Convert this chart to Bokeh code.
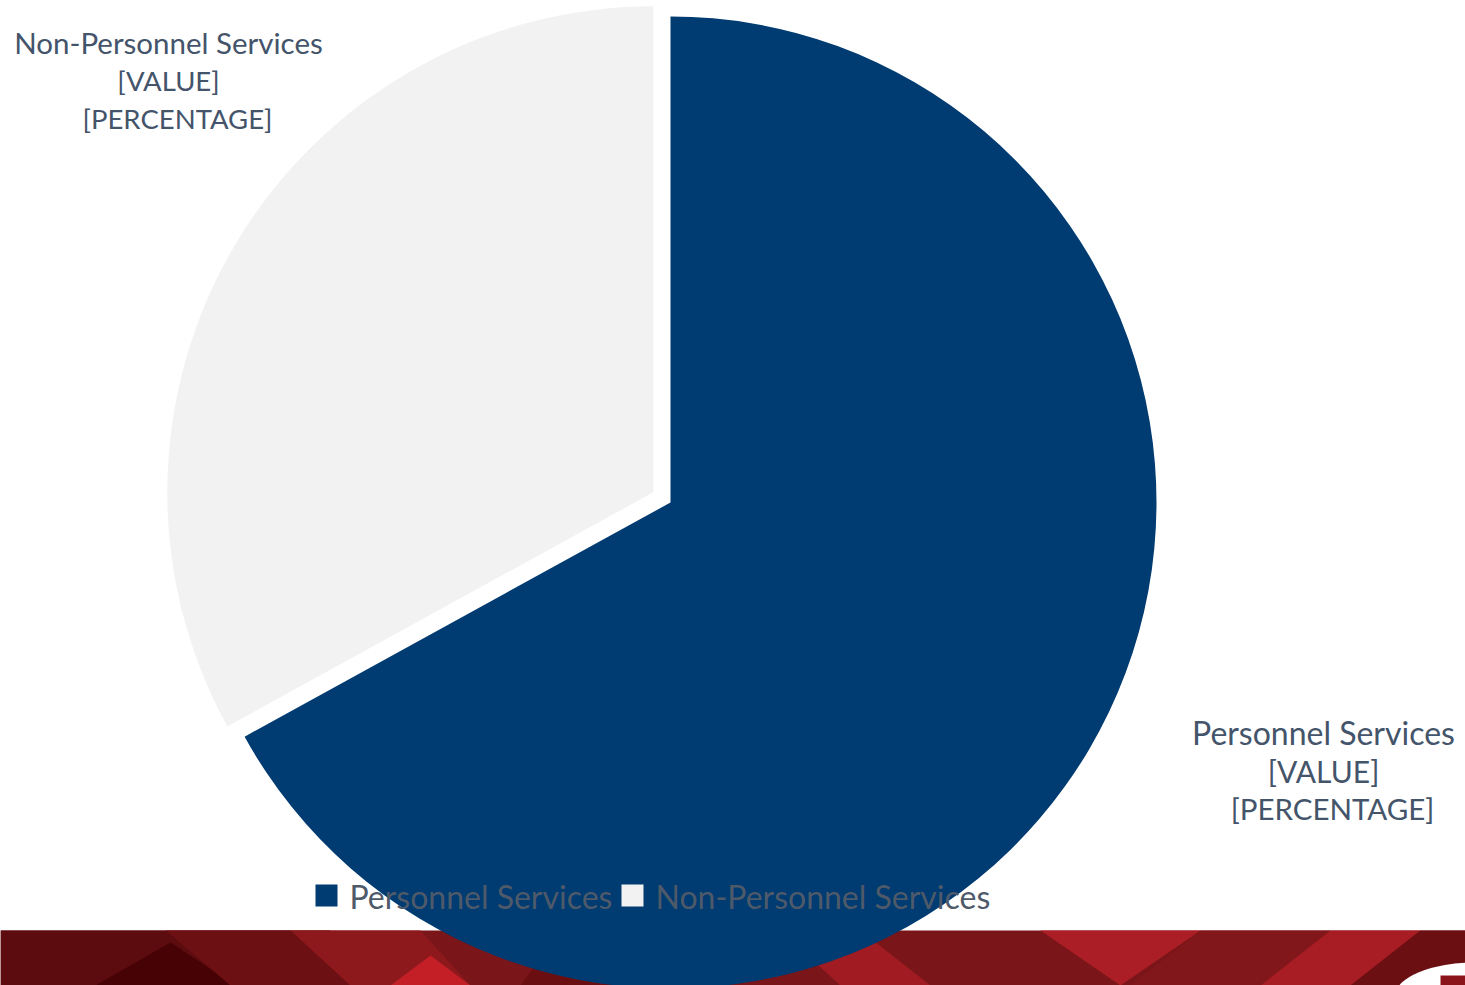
import numpy as np
from bokeh.plotting import figure
from bokeh.models import ColumnDataSource, Range1d
from bokeh.core.properties import value
from bokeh.embed import file_html
from bokeh.resources import INLINE

# ---- data ----
categories = ["Personnel Services", "Non-Personnel Services"]
values = [67, 33]
value_text = ["[VALUE]", "[VALUE]"]
pct_text = ["[PERCENTAGE]", "[PERCENTAGE]"]
colors = ["#003B71", "#F2F2F2"]
explode = [0, 20]

# ---- layout (reference pixel space, y measured from top) ----
W, H = 1465, 985


def Y(y):
    return H - y


p = figure(width=W, height=H, output_backend="svg", toolbar_location=None,
           x_range=Range1d(0, W), y_range=Range1d(0, H),
           min_border=0, outline_line_color=None)
p.axis.visible = False
p.grid.visible = False
p.background_fill_color = "white"
p.border_fill_color = "white"

# ---- decorative banner at the bottom ----
p.quad(left=0, right=1465, bottom=Y(985), top=Y(930), fill_color="#7A1519", line_color=None)
decor = [
    ([0, 330, 260, 0], [930, 930, 985, 985], "#5C0B0E"),
    ([95, 170, 235], [985, 942, 985], "#470205"),
    ([165, 290, 350, 230], [930, 930, 985, 985], "#6C1013"),
    ([290, 420, 470, 350], [930, 930, 985, 985], "#8D191D"),
    ([390, 430, 470, 420], [985, 955, 985, 985], "#C41F27"),
    ([560, 700, 650, 520], [930, 930, 985, 985], "#6A0E12"),
    ([780, 860, 930, 840], [930, 930, 985, 985], "#A11B22"),
    ([1040, 1200, 1120], [930, 930, 985], "#AC1E26"),
    ([1200, 1330, 1260, 1130], [930, 930, 985, 985], "#82171B"),
    ([1330, 1420, 1350, 1260], [930, 930, 985, 985], "#A81D24"),
    ([1420, 1465, 1465, 1350], [930, 930, 985, 985], "#6B0F13"),
]
for xs, ys, c in decor:
    p.patch(xs, [Y(v) for v in ys], fill_color=c, line_color=None)
p.ellipse(x=1475, y=Y(995), width=160, height=66, fill_color="white", line_color=None)
p.quad(left=1440, right=1465, bottom=Y(985), top=Y(975), fill_color="#8A1419", line_color=None)

# ---- pie ----
CX, CY, R = 670, Y(502), 486
vals = np.array(values, dtype=float)
frac = vals / vals.sum()
cum = np.concatenate([[0], np.cumsum(frac)[:-1]])
end = np.pi / 2 - cum * 2 * np.pi
start = end - frac * 2 * np.pi
mid = (start + end) / 2
cx = CX + np.array(explode) * np.cos(mid)
cy = CY + np.array(explode) * np.sin(mid)
pie_src = ColumnDataSource(dict(cx=cx, cy=cy, start=start, end=end,
                                color=colors, cat=categories))
p.wedge(x="cx", y="cy", radius=R, start_angle="start", end_angle="end",
        fill_color="color", line_color=None, source=pie_src)

# ---- data labels ----
# centre x, first baseline, font sizes per line
LABEL_POS = [(1323, 732, ["32px", "30px", "29.5px"]),
             (168, 42, ["29.5px", "27.5px", "27.5px"])]
LINE_H = 38
for i in range(len(categories)):
    x0, y0, sizes = LABEL_POS[i]
    lines = [categories[i], value_text[i], pct_text[i]]
    for k in range(3):
        p.text(x=[x0], y=[Y(y0 + k * LINE_H)], text=[lines[k]],
               x_offset=9 if k == 2 else 0, text_align="center",
               text_baseline="alphabetic",
               text_font=value("Lato"), text_font_size=sizes[k],
               text_color="#44546A")

# ---- legend ----
LEG_SQ = [326, 632]
LEG_TX = [349, 655]
p.rect(x=LEG_SQ, y=[Y(895)] * 2, width=22, height=22,
       fill_color=colors, line_color=None)
p.text(x=LEG_TX, y=[Y(896)] * 2, text=categories,
       text_align="left", text_baseline="alphabetic",
       text_font=value("Lato"), text_font_size="32px",
       text_color="#4E5A69")

open("out.html", "w").write(file_html(p, INLINE))
